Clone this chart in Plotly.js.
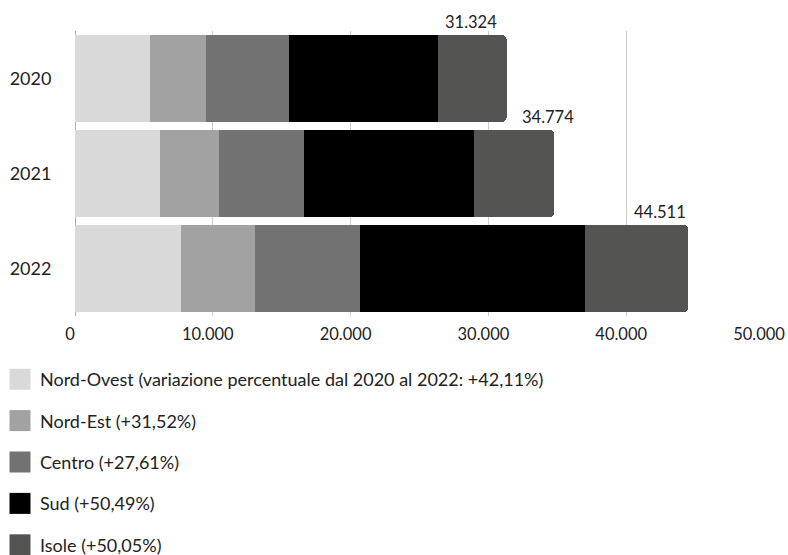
<!DOCTYPE html>
<html>
<head>
<meta charset="utf-8">
<script src="https://cdn.plot.ly/plotly-3.0.1.min.js"></script>
<style>html,body{margin:0;padding:0;background:#fff;}#chart{width:788px;height:555px;}</style>
</head>
<body>
<div id="chart"></div>
<script>
const years = ['2020', '2021', '2022'];
const seriesNames = [
  'Nord-Ovest (variazione percentuale dal 2020 al 2022: +42,11%)',
  'Nord-Est (+31,52%)',
  'Centro (+27,61%)',
  'Sud (+50,49%)',
  'Isole (+50,05%)'
];
const nordOvest = [5430, 6180, 7710];
const nordEst = [4070, 4290, 5350];
const centro = [6000, 6120, 7650];
const sud = [10830, 12360, 16290];
const isole = [4994, 5824, 7511];
const totals = [31324, 34774, 44511];
const xTicks = [0, 10000, 20000, 30000, 40000, 50000];

const colors = ['#d9d9d9', '#a2a2a2', '#727272', '#000000', '#545452'];
const allSeries = [nordOvest, nordEst, centro, sud, isole];

function fmtIt(n) {
  return String(n).replace(/\B(?=(\d{3})+(?!\d))/g, '.');
}

const traces = allSeries.map((vals, i) => ({
  type: 'bar',
  orientation: 'h',
  y: years,
  x: vals,
  name: seriesNames[i],
  legendgroup: 'g' + i,
  marker: {color: colors[i]}
}));

const labelShift = [-36, -6, -28];
const annotations = years.map((yr, i) => ({
  x: totals[i], y: i, xref: 'x', yref: 'y',
  text: fmtIt(totals[i]),
  showarrow: false,
  xanchor: 'center', yanchor: 'middle',
  xshift: labelShift[i], yshift: 57,
  font: {family: 'Lato, sans-serif', size: 16.5, color: '#222'}
}));

const layout = {
  width: 788, height: 555,
  margin: {l: 75, r: 24, t: 31, b: 239, autoexpand: false},
  paper_bgcolor: '#fff', plot_bgcolor: '#fff',
  barmode: 'stack',
  bargap: 0.075,
  barcornerradius: 5,
  separators: ',.',
  font: {family: 'Lato, sans-serif', color: '#222'},
  legend: {
    x: -75/689, y: -45/285, xanchor: 'left', yanchor: 'top',
    font: {family: 'Lato, sans-serif', size: 18, color: '#222'},
    tracegroupgap: 15,
    bgcolor: 'rgba(0,0,0,0)'
  },
  xaxis: {
    range: [0, 50000], tickvals: xTicks, tickformat: ',d',
    showgrid: true, gridcolor: '#cccccc',
    zeroline: true, zerolinecolor: '#b0b0b0', zerolinewidth: 1,
    ticks: 'outside', ticklen: 3, tickcolor: 'rgba(0,0,0,0)',
    ticklabeloverflow: 'allow',
    ticklabelshift: -5,
    tickfont: {family: 'Lato, sans-serif', size: 16.5, color: '#222'}
  },
  yaxis: {
    type: 'category', range: [2.5, -0.5], autorange: false,
    showgrid: false, zeroline: false,
    ticks: 'outside', ticklen: 19, tickcolor: 'rgba(0,0,0,0)',
    tickfont: {family: 'Lato, sans-serif', size: 18, color: '#222'}
  },
  annotations: annotations
};

Plotly.newPlot('chart', traces, layout, {displayModeBar: false}).then(gd => {
  gd.querySelectorAll('.legend .legendpoints path').forEach(p => {
    const t = p.getAttribute('transform') || '';
    p.setAttribute('d', 'M6,6H-6V-6H6Z');
    p.setAttribute('transform', t + ' scale(1.75)');
  });
});
</script>
</body>
</html>
